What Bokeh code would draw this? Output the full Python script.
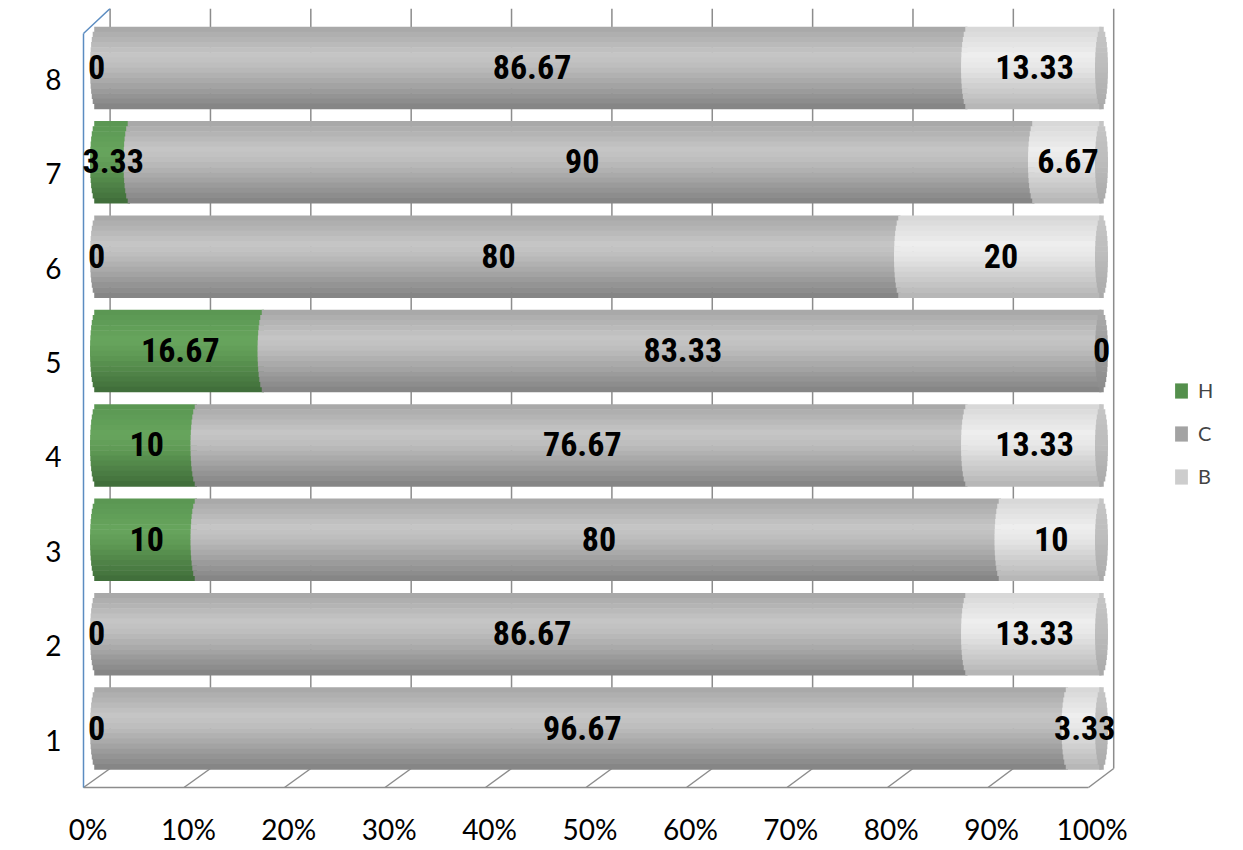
import math
from bokeh.plotting import figure
from bokeh.models import (Range1d, LinearAxis, FixedTicker, ColumnDataSource, CDSView,
                          BooleanFilter, Legend, LegendItem)
from bokeh.transform import dodge
from bokeh.core.properties import value
from bokeh.embed import file_html
from bokeh.resources import INLINE

# ---------------- data ----------------
categories = [1, 2, 3, 4, 5, 6, 7, 8]
series_names = ["Н", "С", "В"]
H_vals = [0, 0, 10, 10, 16.67, 0, 3.33, 0]
C_vals = [96.67, 86.67, 80, 76.67, 83.33, 80, 90, 86.67]
B_vals = [3.33, 13.33, 10, 13.33, 0, 20, 6.67, 13.33]
x_ticks = [0, 10, 20, 30, 40, 50, 60, 70, 80, 90, 100]
x_tick_labels = ["0%", "10%", "20%", "30%", "40%", "50%", "60%", "70%", "80%", "90%", "100%"]

# ---------------- styles ----------------
legend_colors = ["#548f4c", "#a3a3a3", "#cdcdcd"]
green_stops = [(0.0, "#5a9652"), (0.38, "#67a55d"), (0.55, "#5f9a55"), (1.0, "#3f6c39")]
gray_stops = [(0.0, "#a6a6a6"), (0.35, "#c6c6c6"), (0.5, "#bcbcbc"), (1.0, "#828282")]
light_stops = [(0.0, "#d6d6d6"), (0.35, "#eeeeee"), (0.5, "#e6e6e6"), (1.0, "#b4b4b4")]
lightcap_stops = [(0.0, "#c6c6c6"), (0.5, "#bcbcbc"), (1.0, "#a9a9a9")]
graycap_stops = [(0.0, "#aaaaaa"), (0.5, "#9d9d9d"), (1.0, "#8a8a8a")]
label_font = "'Roboto Condensed', 'DejaVu Sans Condensed', Lato"


def hex2rgb(h):
    h = h.lstrip("#")
    return tuple(int(h[i:i + 2], 16) for i in (0, 2, 4))


def grad(stops, t):
    for (t0, c0), (t1, c1) in zip(stops[:-1], stops[1:]):
        if t0 <= t <= t1:
            f = (t - t0) / (t1 - t0) if t1 > t0 else 0
            a, b = hex2rgb(c0), hex2rgb(c1)
            r = [round(a[k] + (b[k] - a[k]) * f) for k in range(3)]
            return "#%02x%02x%02x" % tuple(r)
    return stops[-1][1]


W, H = 1243, 850
p = figure(width=W, height=H, output_backend="svg", toolbar_location=None,
           x_range=Range1d(-1.592, 113.433), y_range=Range1d(0.343, 8.630),
           min_border_left=80, min_border_right=7, min_border_top=8, min_border_bottom=60,
           x_axis_location=None, y_axis_location=None)
p.grid.visible = False
p.outline_line_color = None
p.background_fill_color = "white"
p.border_fill_color = "white"

p.extra_x_ranges = {"front": Range1d(-0.747, 114.392), "sx": Range1d(80, 1236)}
p.extra_y_ranges = {"front": Range1d(0.465, 8.752), "sy": Range1d(790, 8)}

# ---------------- axes ----------------
xaxis = LinearAxis(x_range_name="front", ticker=FixedTicker(ticks=x_ticks),
                   major_label_overrides={t: l for t, l in zip(x_ticks, x_tick_labels)},
                   axis_line_color=None, major_tick_line_color=None, minor_tick_line_color=None,
                   major_label_text_font="Lato", major_label_text_font_size="28px",
                   major_label_text_color="black", major_label_standoff=15)
p.add_layout(xaxis, "below")
yaxis = LinearAxis(y_range_name="front", ticker=FixedTicker(ticks=categories),
                   axis_line_color=None, major_tick_line_color=None, minor_tick_line_color=None,
                   major_label_text_font="Lato", major_label_text_font_size="28px",
                   major_label_text_color="black", major_label_standoff=13)
p.add_layout(yaxis, "left")

# ---------------- 3D frame (walls / floor) ----------------
back_x = [109.6 + 10.036 * t for t in x_ticks]
front_x = [83 + 10.05 * t for t in x_ticks]
p.segment(x0=back_x, y0=[8] * len(back_x), x1=back_x, y1=[768] * len(back_x),
          x_range_name="sx", y_range_name="sy", line_color="#8c8c8c", line_width=1.5)
p.segment(x0=back_x, y0=[768] * len(back_x), x1=front_x, y1=[787] * len(back_x),
          x_range_name="sx", y_range_name="sy", line_color="#8c8c8c", line_width=1.5)
p.segment(x0=[front_x[0]], y0=[787], x1=[front_x[-1]], y1=[787],
          x_range_name="sx", y_range_name="sy", line_color="#8c8c8c", line_width=1.5)
p.segment(x0=[83, 83], y0=[33, 33], x1=[83, back_x[0]], y1=[787, 8],
          x_range_name="sx", y_range_name="sy", line_color="#5b8cc1", line_width=1.5)

# ---------------- bars (cylinders) ----------------
H_l = [0] * len(categories)
H_r = list(H_vals)
C_l = list(H_r)
C_r = [a + b for a, b in zip(H_vals, C_vals)]
B_l = list(C_r)
B_r = [a + b for a, b in zip(C_r, B_vals)]

src = ColumnDataSource(dict(y=categories, H_l=H_l, H_r=H_r, C_l=C_l, C_r=C_r, B_l=B_l, B_r=B_r))

NB = 16
bar_h = 0.869
cap_a = 0.647
band_h = bar_h / NB


def band_geom(i):
    t = (i + 0.5) / NB
    dy = bar_h / 2 - (i + 0.5) * band_h
    off = cap_a * math.sqrt(max(0.0, 1 - (dy / (bar_h / 2)) ** 2))
    return t, dy, off


series = [("H", green_stops, H_vals), ("C", gray_stops, C_vals), ("B", light_stops, B_vals)]
for key, stops, vals in series:
    view = CDSView(filter=BooleanFilter([v > 0 for v in vals]))
    for i in range(NB):
        t, dy, off = band_geom(i)
        p.hbar(y=dodge("y", dy, range=p.y_range),
               left=dodge(key + "_l", -off, range=p.x_range), right=key + "_r",
               height=band_h * 1.1, fill_color=grad(stops, t), line_color=None,
               source=src, view=view)

# right end caps
for stops, mask in [(lightcap_stops, [v > 0 for v in B_vals]),
                    (graycap_stops, [v == 0 for v in B_vals])]:
    view = CDSView(filter=BooleanFilter(mask))
    for i in range(NB):
        t, dy, off = band_geom(i)
        p.hbar(y=dodge("y", dy, range=p.y_range),
               left=dodge("B_r", -off, range=p.x_range), right=dodge("B_r", off, range=p.x_range),
               height=band_h * 1.1, fill_color=grad(stops, t), line_color=None,
               source=src, view=view)

# ---------------- data labels ----------------
lx, ly, lt = [], [], []
for lefts, vals in [(H_l, H_vals), (C_l, C_vals), (B_l, B_vals)]:
    for c, l, v in zip(categories, lefts, vals):
        lx.append(l + v / 2)
        ly.append(c)
        lt.append(f"{v:g}")
lab_src = ColumnDataSource(dict(x=lx, y=ly, t=lt))
p.text(x="x", y="y", text="t", source=lab_src, text_font=value(label_font),
       text_font_style="bold", text_font_size="34px", text_align="center",
       text_baseline="middle", text_color="black", y_offset=-1)

# ---------------- legend ----------------
leg_items = []
for (key, _, _), name, col in zip(series, series_names, legend_colors):
    r = p.hbar(y="y", left=key + "_l", right=key + "_r", height=0, fill_color=col,
               line_color=None, source=src)
    leg_items.append(LegendItem(label=name, renderers=[r]))
legend = Legend(items=leg_items, location=(1093, 302), glyph_width=16, glyph_height=19,
                label_height=19, spacing=19, padding=0, margin=0, border_line_color=None,
                background_fill_alpha=0, label_text_font="Lato", label_text_font_size="20px",
                label_standoff=9)
p.add_layout(legend)

open("out.html", "w", encoding="utf-8").write(file_html(p, INLINE))
